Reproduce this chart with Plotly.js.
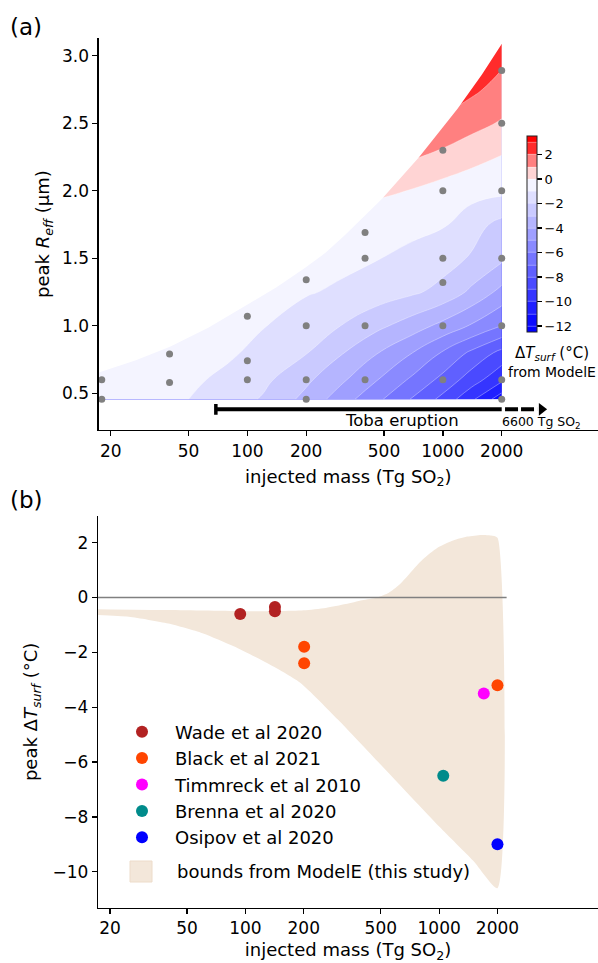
<!DOCTYPE html>
<html><head><meta charset="utf-8">
<script src="https://cdn.plot.ly/plotly-3.0.1.min.js"></script>
<style>html,body{margin:0;padding:0;background:#fff;} #chart{width:598px;height:963px;}</style>
</head><body><div id="chart"></div>
<script>
// ---------- Panel (a): contour field ----------
const massGrid = [17, 30, 50, 80, 120, 200, 300, 450, 700, 1000, 1400, 2000];
const reffGrid = [0.455, 0.6, 0.8, 1.0, 1.25, 1.5, 1.75, 2.0, 2.25, 2.5, 2.75, 3.1];
const dTsurfGrid = [
  [-0.45, -0.7, -1.0, -1.5, -2.1, -3.3, -4.5, -5.7, -7.1, -8.3, -9.8, -11.6],
  [-0.35, -0.55, -0.8, -1.25, -1.75, -2.8, -3.8, -4.9, -6.2, -7.3, -8.5, -9.8],
  [-0.25, -0.4, -0.6, -0.85, -1.3, -1.95, -2.9, -3.9, -5.0, -6.1, -7.2, -8.3],
  [-0.2, -0.3, -0.45, -0.65, -0.95, -1.5, -2.0, -2.7, -3.5, -4.3, -5.1, -6.0],
  [-0.15, -0.2, -0.3, -0.45, -0.65, -0.92, -1.15, -1.45, -1.85, -2.3, -3.2, -4.3],
  [-0.1, -0.15, -0.2, -0.3, -0.4, -0.55, -0.75, -0.95, -1.25, -1.6, -2.1, -2.8],
  [-0.05, -0.05, -0.1, -0.15, -0.2, -0.3, -0.4, -0.55, -0.75, -0.9, -1.6, -2.3],
  [0.5, 0.5, 0.5, 0.5, 0.5, 0.4, 0.35, 0.2, -0.05, -0.4, -0.6, -0.75],
  [1.5, 1.5, 1.5, 1.5, 1.5, 1.5, 1.5, 1.4, 1.1, 0.72, 0.3, -0.05],
  [2.5, 2.5, 2.5, 2.5, 2.5, 2.5, 2.5, 2.5, 2.2, 1.8, 1.35, 0.9],
  [2.95, 2.95, 2.95, 2.95, 2.95, 2.95, 2.95, 2.95, 2.95, 2.6, 2.2, 1.65],
  [2.95, 2.95, 2.95, 2.95, 2.95, 2.95, 2.95, 2.95, 2.95, 2.95, 2.95, 2.5]
];
// upper edge of the sampled parameter space (region above is blank)
const edgeMass = [15, 17.4, 26.9, 40.2, 63.1, 100, 141, 196, 251, 316, 486, 755, 1186, 1585, 2000];
const edgeReff = [0.619, 0.653, 0.745, 0.845, 0.985, 1.154, 1.285, 1.426, 1.54, 1.672, 1.937, 2.248, 2.605, 2.86, 3.087];
// model runs (grey dots)
const runMass = [18, 18, 40, 40, 100, 100, 100, 200, 200, 200, 200, 400, 400, 400, 400,
                 1000, 1000, 1000, 1000, 1000, 1000, 2000, 2000, 2000, 2000, 2000, 2000, 2000];
const runReff = [0.455, 0.60, 0.58, 0.79, 0.60, 0.74, 1.07, 0.455, 0.60, 1.0, 1.34, 0.60, 1.0, 1.5, 1.69,
                 0.60, 1.0, 1.32, 1.5, 2.0, 2.30, 0.455, 0.60, 1.0, 1.5, 2.0, 2.5, 2.89];
// Toba range bar
const tobaMass = [69, 2000];
const tobaDashMass = [2080, 3034];
const tobaArrowMass = [3200];
const tobaReff = 0.381;

// ---------- Panel (b) ----------
const wadeMass = [94, 142, 142], wadeDT = [-0.6, -0.35, -0.5];
const blackMass = [201, 201, 2000], blackDT = [-1.8, -2.4, -3.2];
const timmMass = [1700], timmDT = [-3.5];
const brennaMass = [1050], brennaDT = [-6.5];
const osipovMass = [2000], osipovDT = [-9.0];
const upperMass = [15, 40, 100, 150, 200, 260, 330, 400, 480, 550, 620, 700, 800, 900, 1000, 1180, 1400, 1650, 1850, 2000];
const upperDT = [-0.42, -0.46, -0.5, -0.5, -0.47, -0.38, -0.24, -0.1, 0.0, 0.17, 0.45, 0.85, 1.3, 1.62, 1.85, 2.08, 2.22, 2.28, 2.26, 2.18];
const lowerMass = [15, 25, 40, 60, 87, 130, 191, 300, 500, 1000, 1500, 2000];
const lowerDT = [-0.62, -0.7, -0.95, -1.3, -1.78, -2.4, -3.1, -4.45, -6.1, -8.35, -9.6, -10.6];
const zeroMass = [15, 2230], zeroDT = [0, 0];

// ticks
const massTicks = [20, 50, 100, 200, 500, 1000, 2000];
const massTickText = ['20', '50', '100', '200', '500', '1000', '2000'];
const massMinor = [30, 40, 60, 70, 80, 90, 300, 400, 600, 700, 800, 900];
const reffTicks = [0.5, 1.0, 1.5, 2.0, 2.5, 3.0];
const reffTickText = ['0.5', '1.0', '1.5', '2.0', '2.5', '3.0'];
const dtTicks = [-10, -8, -6, -4, -2, 0, 2];
const dtTickText = ['\u221210', '\u22128', '\u22126', '\u22124', '\u22122', '0', '2'];
const cbTicks = [-12, -10, -8, -6, -4, -2, 0, 2];
const cbTickText = ['\u221212', '\u221210', '\u22128', '\u22126', '\u22124', '\u22122', '0', '2'];

// band colours (bwr with centre at 0, -12..3)
const bandColors = ['#0b0bff', '#2020ff', '#3535ff', '#4a4aff', '#6060ff', '#7575ff', '#8a8aff',
  '#9f9fff', '#b5b5ff', '#cacaff', '#dfdfff', '#f4f4ff', '#ffd4d4', '#ff8080', '#ff2b2b'];
const cscale = [[0, '#0000ff']];
bandColors.forEach((c, k) => cscale.push([(k + 1) / 16, c]));
cscale.push([1, '#ff0000']);

const W = 598, H = 963;
const px = v => v / W, py = v => 1 - v / H;
const FONT = 'DejaVu Sans, sans-serif';

const traces = [
  {type: 'contour', x: massGrid, y: reffGrid, z: dTsurfGrid, xaxis: 'x', yaxis: 'y',
   autocontour: false, contours: {start: -12, end: 3, size: 1, coloring: 'fill', showlines: true},
   line: {color: 'rgba(255,255,255,0.6)', width: 0.6, smoothing: 1.3},
   colorscale: cscale, showscale: true, hoverinfo: 'skip', showlegend: false,
   colorbar: {x: px(527.3), xanchor: 'left', y: py(234.2), yanchor: 'middle',
     len: 196, lenmode: 'pixels', thickness: 10, thicknessmode: 'pixels',
     outlinewidth: 1, outlinecolor: '#222', xpad: 0, ypad: 0,
     ticks: 'outside', ticklen: 5, tickwidth: 1.2, tickcolor: '#000',
     tickmode: 'array', tickvals: cbTicks, ticktext: cbTickText,
     tickfont: {size: 13, family: FONT, color: '#000'}}},
  {type: 'scatter', x: edgeMass.concat([2100, 2100, 15]), y: edgeReff.concat([3.087, 3.6, 3.6]),
   xaxis: 'x', yaxis: 'y', mode: 'lines', fill: 'toself', fillcolor: '#ffffff',
   line: {width: 0, color: '#ffffff'}, hoverinfo: 'skip', showlegend: false},
  {type: 'scatter', x: runMass, y: runReff, xaxis: 'x', yaxis: 'y', mode: 'markers',
   marker: {color: '#808080', size: 7}, hoverinfo: 'skip', showlegend: false, cliponaxis: false},
  {type: 'scatter', x: tobaMass, y: [tobaReff, tobaReff], xaxis: 'x', yaxis: 'y', mode: 'lines',
   line: {color: '#000', width: 4}, hoverinfo: 'skip', showlegend: false},
  {type: 'scatter', x: [tobaMass[0], tobaMass[0]], y: [tobaReff - 0.04, tobaReff + 0.04], xaxis: 'x', yaxis: 'y',
   mode: 'lines', line: {color: '#000', width: 3.5}, hoverinfo: 'skip', showlegend: false},
  {type: 'scatter', x: tobaDashMass, y: [tobaReff, tobaReff], xaxis: 'x', yaxis: 'y', mode: 'lines',
   line: {color: '#000', width: 4, dash: '13px,3px'}, hoverinfo: 'skip', showlegend: false, cliponaxis: false},
  {type: 'scatter', x: tobaArrowMass, y: [tobaReff], xaxis: 'x', yaxis: 'y', mode: 'markers',
   marker: {symbol: 'triangle-right', size: 11, color: '#000', line: {width: 0}},
   hoverinfo: 'skip', showlegend: false, cliponaxis: false},

  // panel (b)
  {type: 'scatter', x: upperMass.concat(lowerMass.slice().reverse()), y: upperDT.concat(lowerDT.slice().reverse()),
   xaxis: 'x2', yaxis: 'y2', mode: 'lines', fill: 'toself', fillcolor: '#f3e7da',
   line: {width: 0, color: '#f3e7da', shape: 'spline', smoothing: 0.6}, hoverinfo: 'skip', showlegend: false},
  {type: 'scatter', x: zeroMass, y: zeroDT, xaxis: 'x2', yaxis: 'y2', mode: 'lines',
   line: {color: '#808080', width: 1.6}, hoverinfo: 'skip', showlegend: false},
  {type: 'scatter', name: 'Wade et al 2020', x: wadeMass, y: wadeDT, xaxis: 'x2', yaxis: 'y2',
   mode: 'markers', marker: {color: '#b22222', size: 12}, legendgroup: 'a'},
  {type: 'scatter', name: 'Black et al 2021', x: blackMass, y: blackDT, xaxis: 'x2', yaxis: 'y2',
   mode: 'markers', marker: {color: '#ff4500', size: 12}, legendgroup: 'b'},
  {type: 'scatter', name: 'Timmreck et al 2010', x: timmMass, y: timmDT, xaxis: 'x2', yaxis: 'y2',
   mode: 'markers', marker: {color: '#ff00ff', size: 12}, legendgroup: 'c'},
  {type: 'scatter', name: 'Brenna et al 2020', x: brennaMass, y: brennaDT, xaxis: 'x2', yaxis: 'y2',
   mode: 'markers', marker: {color: '#008b8b', size: 12}, legendgroup: 'd'},
  {type: 'scatter', name: 'Osipov et al 2020', x: osipovMass, y: osipovDT, xaxis: 'x2', yaxis: 'y2',
   mode: 'markers', marker: {color: '#0000ff', size: 12}, legendgroup: 'e', cliponaxis: false}
];

const axCommon = {
  showline: true, linecolor: '#000', linewidth: 1.3, ticks: 'outside', ticklen: 5, tickwidth: 1.3,
  tickcolor: '#000', showgrid: false, zeroline: false, mirror: false,
  tickfont: {size: 17, family: FONT, color: '#000'}, automargin: false
};
const xCommon = Object.assign({}, axCommon, {
  type: 'log', tickmode: 'array', tickvals: massTicks, ticktext: massTickText
});
// minor ticks drawn by label-less overlay axes
const minorCommon = {
  type: 'log', tickmode: 'array', tickvals: massMinor, ticks: 'outside', ticklen: 3, tickwidth: 1,
  tickcolor: '#000', showticklabels: false, showline: false, showgrid: false, zeroline: false, automargin: false
};

const layout = {
  width: W, height: H, margin: {l: 0, r: 0, t: 0, b: 0},
  paper_bgcolor: '#fff', plot_bgcolor: 'rgba(0,0,0,0)',
  font: {family: FONT, color: '#000', size: 17},
  showlegend: true,
  legend: {x: px(109), xanchor: 'left', y: py(713.5), yanchor: 'top', itemwidth: 56,
    font: {size: 18, family: FONT, color: '#000'}, bgcolor: 'rgba(0,0,0,0)', borderwidth: 0,
    traceorder: 'normal', tracegroupgap: 0},
  xaxis: Object.assign({}, xCommon, {domain: [px(98.7), 1], anchor: 'y', range: [1.2396, 3.7936],
    title: {text: 'injected mass (Tg SO<sub>2</sub>)', font: {size: 18, family: FONT}, standoff: 10}}),
  xaxis3: Object.assign({}, minorCommon, {domain: [px(98.7), 1], anchor: 'y', overlaying: 'x', range: [1.2396, 3.7936]}),
  yaxis: Object.assign({}, axCommon, {domain: [py(430), py(38.3)], anchor: 'x', range: [0.228, 3.129],
    tickmode: 'array', tickvals: reffTicks, ticktext: reffTickText}),
  xaxis2: Object.assign({}, xCommon, {domain: [px(98), 1], anchor: 'y2', range: [1.2390, 3.820],
    title: {text: 'injected mass (Tg SO<sub>2</sub>)', font: {size: 18, family: FONT}, standoff: 10}}),
  xaxis4: Object.assign({}, minorCommon, {domain: [px(98), 1], anchor: 'y2', overlaying: 'x2', range: [1.2390, 3.820]}),
  yaxis2: Object.assign({}, axCommon, {domain: [py(907.7), py(516)], anchor: 'x2', range: [-11.31, 2.97],
    tickmode: 'array', tickvals: dtTicks, ticktext: dtTickText,
    title: {text: 'peak \u0394<i>T<sub>surf</sub></i> (\u00b0C)', font: {size: 18, family: FONT}, standoff: 10}}),
  annotations: [
    {xref: 'paper', yref: 'paper', x: px(26), y: py(27), text: '(a)', showarrow: false,
     font: {size: 23, family: FONT}, xanchor: 'center', yanchor: 'middle'},
    {xref: 'paper', yref: 'paper', x: px(26), y: py(500), text: '(b)', showarrow: false,
     font: {size: 23, family: FONT}, xanchor: 'center', yanchor: 'middle'},
    {xref: 'paper', yref: 'paper', x: px(44), y: py(234), text: 'peak <i>R<sub>eff</sub></i> (\u03bcm)', showarrow: false,
     textangle: -90, font: {size: 18, family: FONT}, xanchor: 'center', yanchor: 'middle'},
    {xref: 'paper', yref: 'paper', x: px(552), y: py(353), text: '\u0394<i>T<sub>surf</sub></i> (\u00b0C)', showarrow: false,
     font: {size: 15, family: FONT}, xanchor: 'center', yanchor: 'middle'},
    {xref: 'paper', yref: 'paper', x: px(552), y: py(372), text: 'from ModelE', showarrow: false,
     font: {size: 14, family: FONT}, xanchor: 'center', yanchor: 'middle'},
    {xref: 'paper', yref: 'paper', x: px(402), y: py(420), text: 'Toba eruption', showarrow: false,
     font: {size: 16.5, family: FONT}, xanchor: 'center', yanchor: 'middle'},
    {xref: 'paper', yref: 'paper', x: px(541), y: py(422), text: '6600 Tg SO<sub>2</sub>', showarrow: false,
     font: {size: 12.5, family: FONT}, xanchor: 'center', yanchor: 'middle'},
    {xref: 'paper', yref: 'paper', x: px(175), y: py(871.7), text: 'bounds from ModelE (this study)', showarrow: false,
     font: {size: 18, family: FONT}, xanchor: 'left', yanchor: 'middle'}
  ],
  shapes: [
    {type: 'rect', xref: 'paper', yref: 'paper', x0: px(130), x1: px(152), y0: py(882), y1: py(861),
     fillcolor: '#f3e7da', line: {color: '#eddcca', width: 1}}
  ]
};

Plotly.newPlot('chart', traces, layout, {staticPlot: true, displayModeBar: false});
</script></body></html>
